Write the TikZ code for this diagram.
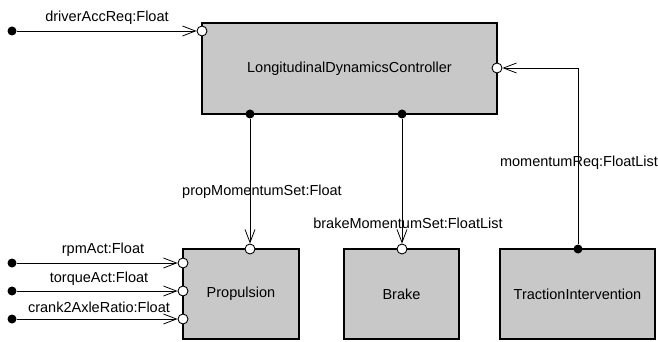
\documentclass[tikz,border=0pt]{standalone}
\usepackage{fontspec}
\setmainfont{Liberation Sans}
\usetikzlibrary{arrows.meta}
\definecolor{boxgray}{RGB}{200,200,200}
\begin{document}
\begin{tikzpicture}[x=1pt,y=-1pt,
  block/.style={draw, line width=2.8pt, fill=boxgray, inner sep=0,
    font=\fontsize{14.5}{16}\selectfont},
  inport/.style={circle, draw, line width=0.9pt, fill=white, minimum size=10pt, inner sep=0},
  outport/.style={circle, fill=black, minimum size=9pt, inner sep=0},
  src/.style={circle, fill=black, minimum size=9pt, inner sep=0},
  conn/.style={line width=0.8pt, -{Straight Barb[length=13pt,width=10pt,line width=0.8pt]}},
  lbl/.style={font=\fontsize{14.5}{16}\selectfont, inner sep=0}
]
\useasboundingbox (0,0) rectangle (658,342);
% blocks
\node[block, minimum width=295pt, minimum height=91pt] (ldc) at (349.5,68.5) {LongitudinalDynamicsController};
\node[block, minimum width=116pt, minimum height=90pt] (prop) at (241,294) {Propulsion};
\node[block, minimum width=115pt, minimum height=90pt] (brake) at (401.5,294) {Brake};
\node[block, minimum width=155pt, minimum height=90pt] (ti) at (577.5,294) {TractionIntervention};
% ports
\node[inport] (ldcIn) at (202,31) {};
\node[inport] (ldcR) at (497,68) {};
\node[outport] (ldcB1) at (250,114) {};
\node[outport] (ldcB2) at (402,114) {};
\node[inport] (propT) at (250,249) {};
\node[inport] (propL1) at (183,263) {};
\node[inport] (propL2) at (183,291) {};
\node[inport] (propL3) at (183,319) {};
\node[inport] (brakeT) at (402,249) {};
\node[outport] (tiT) at (578,249) {};
% sources
\node[src] (s1) at (12,31) {};
\node[src] (s2) at (12,263) {};
\node[src] (s3) at (12,291) {};
\node[src] (s4) at (12,319) {};
% connectors
\draw[conn] (s1) -- (ldcIn);
\draw[conn] (s2) -- (propL1);
\draw[conn] (s3) -- (propL2);
\draw[conn] (s4) -- (propL3);
\draw[conn] (ldcB1) -- (propT);
\draw[conn] (ldcB2) -- (brakeT);
\draw[conn] (tiT) |- (ldcR);
% labels
\node[lbl] at (107,18) {driverAccReq:Float};
\node[lbl] at (103,250) {rpmAct:Float};
\node[lbl] at (99,279) {torqueAct:Float};
\node[lbl] at (99,307) {crank2AxleRatio:Float};
\node[lbl] at (262,192) {propMomentumSet:Float};
\node[lbl] at (408,223) {brakeMomentumSet:FloatList};
\node[lbl] at (579,163) {momentumReq:FloatList};
\end{tikzpicture}
\end{document}
